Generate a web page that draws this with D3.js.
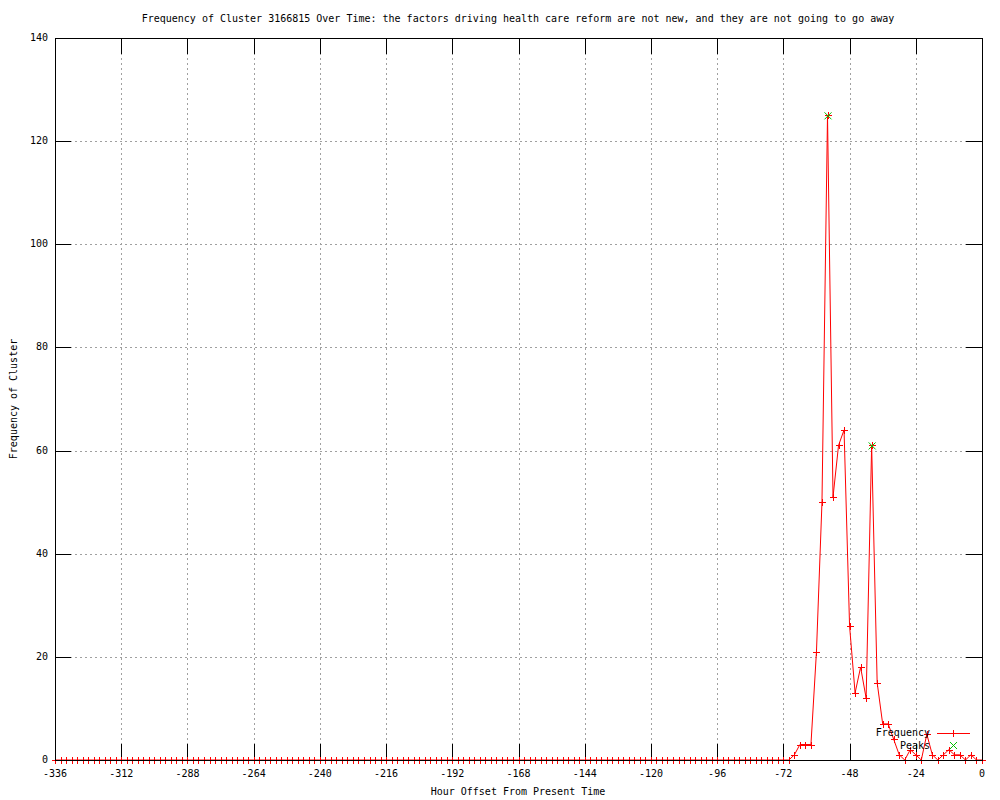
<!DOCTYPE html>
<html>
<head>
<meta charset="utf-8">
<script src="https://cdn.jsdelivr.net/npm/d3@7"></script>
<style>
  html, body { margin: 0; padding: 0; background: #fff; }
  #chart { width: 1000px; height: 800px; }
  text { font-family: "DejaVu Sans Mono", "Liberation Mono", monospace; font-size: 10px; fill: #000; }
</style>
</head>
<body>
<div id="chart"></div>
<script>
// Frequency of a cluster per 2-hour bin, hour offset -336 .. 0
const titleText = "Frequency of Cluster 3166815 Over Time: the factors driving health care reform are not new, and they are not going to go away";

const freqValues = [
    0,0,0,0,0,0,0,0,0,0,0,0,0,0,0,0,0,0,0,
    0,0,0,0,0,0,0,0,0,0,0,0,0,0,0,0,0,0,0,
    0,0,0,0,0,0,0,0,0,0,0,0,0,0,0,0,0,0,0,
    0,0,0,0,0,0,0,0,0,0,0,0,0,0,0,0,0,0,0,
    0,0,0,0,0,0,0,0,0,0,0,0,0,0,0,0,0,0,0,
    0,0,0,0,0,0,0,0,0,0,0,0,0,0,0,0,0,0,0,
    0,0,0,0,0,0,0,0,0,0,0,0,0,0,0,0,0,0,0,
    // -70 .. 0
    0, 1, 3, 3, 3, 21, 50, 125, 51, 61, 64, 26, 13, 18, 12, 61, 15, 7, 7, 4,
    1, 0, 2, 1, 0, 5, 1, 0, 1, 2, 1, 1, 0, 1, 0, 0
];
const freqHours = d3.range(-336, 1, 2);

const peakHours = [-56, -40];
const peakValues = [125, 61];

const xTicks = [-336, -312, -288, -264, -240, -216, -192, -168, -144, -120, -96, -72, -48, -24, 0];
const yTicks = [0, 20, 40, 60, 80, 100, 120, 140];

(() => {
    const sel = d3.select("#chart");
    const W = 1000, H = 800;
    const L = 55, R = 982, T = 38, B = 760;
    const tick = 16;
    const RED = "rgb(255,0,0)", GREEN = "rgb(0,192,0)";

    const svg = sel.append("svg").attr("width", W).attr("height", H);

    const x = d3.scaleLinear().domain([-336, 0]).range([L, R]);
    const y = d3.scaleLinear().domain([0, 140]).range([B, T]);

    const px = v => Math.round(x(v)) + 0.5;
    const py = v => Math.round(y(v)) + 0.5;

    // grid
    const grid = svg.append("g")
        .attr("stroke", "#a0a0a0")
        .attr("stroke-dasharray", "2,3")
        .attr("shape-rendering", "crispEdges");
    grid.selectAll(".gx").data(xTicks.slice(1, -1)).join("line")
        .attr("x1", px).attr("x2", px).attr("y1", T).attr("y2", B);
    grid.selectAll(".gy").data(yTicks.slice(1, -1)).join("line")
        .attr("x1", L).attr("x2", R).attr("y1", py).attr("y2", py);

    // ticks on all four sides
    const ticks = svg.append("g").attr("stroke", "#000").attr("shape-rendering", "crispEdges");
    xTicks.forEach(v => {
        ticks.append("line").attr("x1", px(v)).attr("x2", px(v)).attr("y1", B).attr("y2", B - tick);
        ticks.append("line").attr("x1", px(v)).attr("x2", px(v)).attr("y1", T).attr("y2", T + tick);
    });
    yTicks.forEach(v => {
        ticks.append("line").attr("x1", L).attr("x2", L + tick).attr("y1", py(v)).attr("y2", py(v));
        ticks.append("line").attr("x1", R).attr("x2", R - tick).attr("y1", py(v)).attr("y2", py(v));
    });

    // tick labels
    svg.append("g").selectAll("text").data(xTicks).join("text")
        .attr("x", d => x(d)).attr("y", 774)
        .attr("text-anchor", "middle").attr("dominant-baseline", "middle")
        .text(d => d);
    svg.append("g").selectAll("text").data(yTicks).join("text")
        .attr("x", 48).attr("y", d => y(d))
        .attr("text-anchor", "end").attr("dominant-baseline", "middle")
        .text(d => d);

    // titles
    svg.append("text").attr("x", 518).attr("y", 19)
        .attr("text-anchor", "middle").attr("dominant-baseline", "middle").text(titleText);
    svg.append("text").attr("x", 518).attr("y", 792)
        .attr("text-anchor", "middle").attr("dominant-baseline", "middle").text("Hour Offset From Present Time");
    svg.append("text").attr("transform", "translate(14,399) rotate(-90)")
        .attr("text-anchor", "middle").attr("dominant-baseline", "middle").text("Frequency of Cluster");

    // frequency line
    const pts = freqHours.map((h, i) => ({ h, v: freqValues[i] }));
    svg.append("path").datum(pts)
        .attr("fill", "none").style("stroke", RED).attr("stroke-width", 1)
        .attr("d", d3.line().x(d => x(d.h)).y(d => y(d.v)));

    const plus = (g, cx, cy, s, c) => {
        g.append("line").style("stroke", c).attr("stroke-width", 1)
            .attr("x1", cx - s).attr("x2", cx + s).attr("y1", cy).attr("y2", cy);
        g.append("line").style("stroke", c).attr("stroke-width", 1)
            .attr("x1", cx).attr("x2", cx).attr("y1", cy - s).attr("y2", cy + s);
    };
    const cross = (g, cx, cy, s, c) => {
        g.append("line").style("stroke", c).attr("x1", cx - s).attr("y1", cy - s).attr("x2", cx + s).attr("y2", cy + s);
        g.append("line").style("stroke", c).attr("x1", cx - s).attr("y1", cy + s).attr("x2", cx + s).attr("y2", cy - s);
    };

    const marks = svg.append("g");
    pts.forEach(d => plus(marks, px(d.h), py(d.v), 3.5, RED));

    const peaks = svg.append("g");
    peakHours.forEach((h, i) => cross(peaks, x(h) + 0.5, y(peakValues[i]) + 0.5, 3.5, GREEN));

    // legend
    const lg = svg.append("g");
    lg.append("text").attr("x", 930).attr("y", 733).attr("text-anchor", "end")
        .attr("dominant-baseline", "middle").text("Frequency");
    lg.append("line").attr("x1", 937).attr("x2", 970).attr("y1", 733.5).attr("y2", 733.5)
        .style("stroke", RED);
    plus(lg, 953.5, 733.5, 3.5, RED);
    lg.append("text").attr("x", 930).attr("y", 746).attr("text-anchor", "end")
        .attr("dominant-baseline", "middle").text("Peaks");
    cross(lg, 953.5, 745.5, 3.5, GREEN);

    // border
    svg.append("rect").attr("x", L + 0.5).attr("y", T + 0.5)
        .attr("width", R - L).attr("height", B - T)
        .attr("fill", "none").attr("stroke", "#000").attr("shape-rendering", "crispEdges");
})();
</script>
</body>
</html>
